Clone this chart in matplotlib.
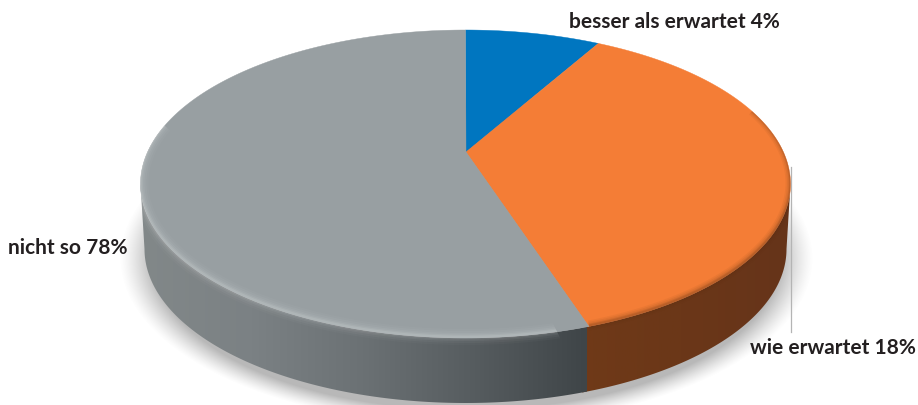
"""3D-Tortendiagramm: Erwartungen (besser / wie erwartet / nicht so)."""
import numpy as np
import matplotlib
matplotlib.use('Agg')
import matplotlib.pyplot as plt
from matplotlib.patches import Polygon
from matplotlib.colors import LinearSegmentedColormap

# Daten
labels = ['besser als erwartet', 'wie erwartet', 'nicht so']
percent = [4, 18, 78]                # beschriftete Werte
drawn_share = [6.7, 37.1, 56.2]      # im Bild sichtbare Anteile (Prozent des Umfangs)
colors = ['#0076c0', '#f47d36', '#989fa2']

W, H = 918, 405
cx, cy, rx, ry = 465.5, 184, 325, 154      # Oberseite
bx, by, brx, bry = 465.5, 249, 321, 154    # Unterkante
apex = (466, 152)                          # Spitze (Perspektive)

plt.rcParams['font.family'] = ['Lato', 'DejaVu Sans']
fig = plt.figure(figsize=(W/100, H/100), dpi=100)
ax = fig.add_axes([0, 0, 1, 1])
ax.set_xlim(0, W); ax.set_ylim(H, 0); ax.axis('off')


def arc(a0, a1, x0=cx, y0=cy, a=rx, b=ry, n=200):
    # Winkel in Grad, im Uhrzeigersinn von oben
    t = np.radians(np.linspace(a0, a1, n))
    return np.column_stack([x0 + a*np.sin(t), y0 - b*np.cos(t)])


# Schatten unter der Torte
yy, xx = np.mgrid[0:H, 0:W]
d = np.sqrt(((xx-466)/332.0)**2 + ((yy-258)/160.0)**2)
alpha = np.clip((1.045-d)/0.10, 0, 1)**1.3*0.55
shadow = np.zeros((H, W, 4))
shadow[..., :3] = 0.5
shadow[..., 3] = alpha
ax.imshow(shadow, extent=(0, W, H, 0), zorder=1, aspect='auto')

# Winkel aus den Anteilen
edges = np.concatenate([[0], np.cumsum(drawn_share)])*3.6

# Seitenwand
wall_cols = ['#828889', '#7b8184', '#6b7174', '#565c5f', '#3f4548']
gray_cmap = LinearSegmentedColormap.from_list('wand', wall_cols)
orange_cmap = LinearSegmentedColormap.from_list('wand2', ['#703a18', '#6b3718', '#66341a'])

# Orange etwas unter das Grau ziehen, damit keine Naht bleibt
p_or = np.vstack([arc(90, edges[2]+1), arc(edges[2]+1, 90, bx, by, brx, bry)])
p_gray = np.vstack([arc(edges[2], 270), arc(270, edges[2], bx, by, brx, bry)])
for pts, cmap, x0, x1, z in ((p_or, orange_cmap, 570, 792, 2.0), (p_gray, gray_cmap, 140, 587, 2.1)):
    clip = Polygon(pts, closed=True, fc='none', ec='none', transform=ax.transData)
    ax.add_patch(clip)
    grad = np.linspace(0, 1, 256).reshape(1, -1)
    im = ax.imshow(grad, extent=(x0, x1, 405, 30), cmap=cmap, aspect='auto', zorder=z)
    im.set_clip_path(clip)
ax.set_xlim(0, W); ax.set_ylim(H, 0)

# Oberseite
for i in range(3):
    pts = np.vstack([[apex], arc(edges[i], edges[i+1])])
    ax.add_patch(Polygon(pts, closed=True, fc=colors[i], ec=colors[i], lw=0.3, zorder=3))

# Fase: heller Rand links, dunkler Rand rechts
gray_area = Polygon(np.vstack([[apex], arc(edges[2], 270, bx, by, brx, bry), arc(270, 360)]),
                    closed=True, fc='none', ec='none', zorder=3)
or_area = Polygon(np.vstack([[apex], arc(edges[1], 90), arc(90, edges[2], bx, by, brx, bry)]),
                  closed=True, fc='none', ec='none', zorder=3)
ax.add_patch(gray_area); ax.add_patch(or_area)
rim_g = arc(edges[2], 292, cx, cy-1, rx, ry)
for lw, a in ((16, 0.025), (12, 0.035), (8, 0.05), (5, 0.07), (2.5, 0.09)):
    ln, = ax.plot(rim_g[:, 0], rim_g[:, 1], color='#ffffff', lw=lw*0.72, alpha=a, zorder=4,
                  solid_capstyle='butt')
    ln.set_clip_path(gray_area)
rim_o = arc(62, edges[2])
for lw, a in ((10, 0.06), (7, 0.08), (4, 0.12), (2, 0.16)):
    ln, = ax.plot(rim_o[:, 0], rim_o[:, 1]-1, color='#5a2c10', lw=lw*0.72, alpha=a, zorder=4,
                  solid_capstyle='butt')
    ln.set_clip_path(or_area)

# Beschriftung
ax.plot([791, 791], [167, 332], color='#b4b4b4', lw=0.9, zorder=2.5)
txt = dict(fontsize=15, weight='bold', color='#231f20', zorder=6, va='center')
ax.text(569, 21.5, f'{labels[0]} {percent[0]}%', ha='left', **txt)
ax.text(750, 348, f'{labels[1]} {percent[1]}%', ha='left', **txt)
ax.text(8, 248, f'{labels[2]} {percent[2]}%', ha='left', **txt)

fig.savefig('out.png', dpi=100)
